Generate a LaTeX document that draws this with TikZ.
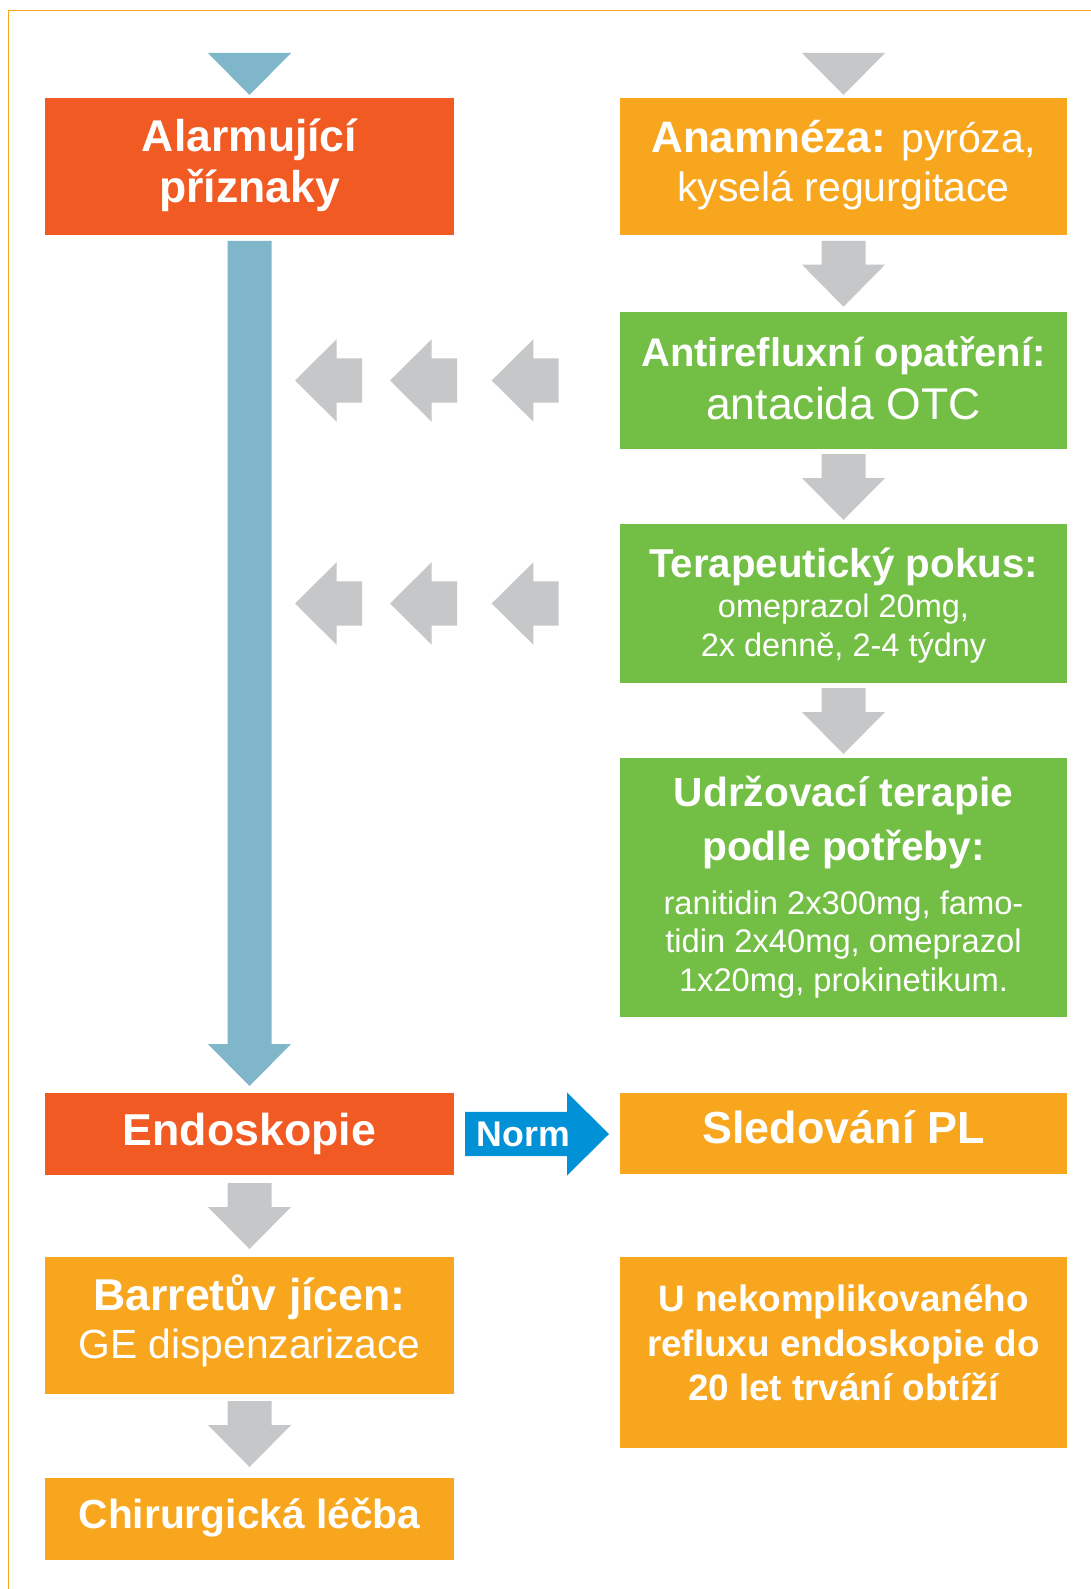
\documentclass[tikz,border=0pt]{standalone}
\usepackage{fontspec}
\setmainfont{Liberation Sans}
\usetikzlibrary{calc}
\definecolor{redor}{HTML}{F15A22}
\definecolor{orng}{HTML}{F7A61E}
\definecolor{grn}{HTML}{73BF45}
\definecolor{gry}{HTML}{C6C7C9}
\definecolor{lblue}{HTML}{7FB6C9}
\definecolor{blu}{HTML}{0091D6}
\newcommand\fs[1]{\fontsize{#1}{#1}\selectfont}
\newcommand\darrow[3]{%
  \fill[#1] let \p1=(#2), \p2=(#3) in
    (\x1-22pt,\y1) -- (\x1+22pt,\y1) -- (\x1+22pt,\y2+42pt) -- (\x1+41.5pt,\y2+42pt)
    -- (\x1,\y2) -- (\x1-41.5pt,\y2+42pt) -- (\x1-22pt,\y2+42pt) -- cycle;}
\newcommand\larrow[2]{%
  \fill[gry] let \p1=(#2.west) in
    (#1pt,\y1) -- ++(41.7pt,41.3pt) -- ++(0pt,-19.1pt) -- ++(25.3pt,0pt)
    -- ++(0pt,-44.4pt) -- ++(-25.3pt,0pt) -- ++(0pt,-19.1pt) -- cycle;}
\begin{document}
\begin{tikzpicture}[x=1pt,y=-1pt,
  box/.style={rectangle,inner sep=0pt,outer sep=0pt,draw=none},
  lbox/.style={box,minimum width=409pt},
  rbox/.style={box,minimum width=447pt},
  txt/.style={anchor=base,inner sep=0pt,text=white}]
\useasboundingbox (0,0) rectangle (1091,1589);
\fill[white] (0,0) rectangle (1091,1589);
\draw[orng,line width=1.5pt] (8.7,1589) -- (8.7,10.7) -- (1091,10.7);

% boxes
\node[lbox,fill=redor,minimum height=137pt] (alarm) at (249.5,166.5) {};
\node[rbox,fill=orng,minimum height=137pt] (anam) at (843.5,166.5) {};
\node[rbox,fill=grn,minimum height=137pt] (anti) at (843.5,380.5) {};
\node[rbox,fill=grn,minimum height=159pt] (tera) at (843.5,603.5) {};
\node[rbox,fill=grn,minimum height=259pt] (udrz) at (843.5,887.5) {};
\node[lbox,fill=redor,minimum height=82pt] (endo) at (249.5,1134) {};
\node[rbox,fill=orng,minimum height=81pt] (sled) at (843.5,1133.5) {};
\node[lbox,fill=orng,minimum height=137pt] (barr) at (249.5,1325.5) {};
\node[lbox,fill=orng,minimum height=82pt] (chir) at (249.5,1519) {};
\node[rbox,fill=orng,minimum height=191pt] (unek) at (843.5,1352.5) {};

% texts
\node[txt,font=\bfseries\fs{44.5}] (t1a) at (249.5,151.7) {Alarmující};
\node[txt,font=\bfseries\fs{44.5}] (t1b) at (249.5,202.7) {příznaky};
\node[txt,font=\fs{41}] (t2a) at (843.5,153) {{\bfseries\fs{44}Anamnéza:} pyróza,};
\node[txt,font=\fs{41}] (t2b) at (843.5,201.7) {kyselá regurgitace};
\node[txt,font=\bfseries\fs{40}] (t3a) at (843.5,366) {Antirefluxní opatření:};
\node[txt,font=\fs{44.5}] (t3b) at (843.5,419.3) {antacida OTC};
\node[txt,font=\bfseries\fs{40.3}] (t4a) at (843.5,577.7) {Terapeutický pokus:};
\node[txt,font=\fs{32.5}] (t4b) at (843.5,617.3) {omeprazol 20mg,};
\node[txt,font=\fs{32.5}] (t4c) at (843.5,656) {2x denně, 2-4 týdny};
\node[txt,font=\bfseries\fs{40.7}] (t5a) at (843.5,806.7) {Udržovací terapie};
\node[txt,font=\bfseries\fs{40.7}] (t5b) at (843.5,860) {podle potřeby:};
\node[txt,font=\fs{32.7}] (t5c) at (843.5,914) {ranitidin 2x300mg, famo-};
\node[txt,font=\fs{32.7}] (t5d) at (843.5,952.7) {tidin 2x40mg, omeprazol};
\node[txt,font=\fs{32.7}] (t5e) at (843.5,991.7) {1x20mg, prokinetikum.};
\node[txt,font=\bfseries\fs{44.7}] (t6) at (249.5,1145) {Endoskopie};
\node[txt,font=\bfseries\fs{44.9}] (t7) at (843.5,1143) {Sledování PL};
\node[txt,font=\bfseries\fs{44.6}] (t8a) at (249.5,1310) {Barretův jícen:};
\node[txt,font=\fs{40.8}] (t8b) at (249.5,1358) {GE dispenzarizace};
\node[txt,font=\bfseries\fs{40.7}] (t9) at (249.5,1528) {Chirurgická léčba};
\node[txt,font=\bfseries\fs{36.8}] (t10a) at (843.5,1311.7) {U nekomplikovaného};
\node[txt,font=\bfseries\fs{36.8}] (t10b) at (843.5,1356) {refluxu endoskopie do};
\node[txt,font=\bfseries\fs{36.8}] (t10c) at (843.5,1400) {20 let trvání obtíží};

% top triangles
\fill[lblue] let \p1=(alarm.north) in (\x1-41.5pt,\y1+45pt) -- (\x1+41.5pt,\y1+45pt) -- (\x1,\y1+3pt) -- cycle;
\fill[gry] let \p1=(anam.north) in (\x1-41.5pt,\y1+45pt) -- (\x1+41.5pt,\y1+45pt) -- (\x1,\y1+3pt) -- cycle;

% blue long arrow
\darrow{lblue}{[yshift=-6pt]alarm.south}{[yshift=7pt]endo.north}

% gray down arrows
\darrow{gry}{[yshift=-6pt]anam.south}{[yshift=5.3pt]anti.north}
\darrow{gry}{[yshift=-5pt]anti.south}{[yshift=4pt]tera.north}
\darrow{gry}{[yshift=-5pt]tera.south}{[yshift=4pt]udrz.north}
\darrow{gry}{[yshift=-8pt]endo.south}{[yshift=8pt]barr.north}
\darrow{gry}{[yshift=-7pt]barr.south}{[yshift=11pt]chir.north}

% left arrows
\larrow{295}{anti}
\larrow{390}{anti}
\larrow{491.7}{anti}
\larrow{295}{tera}
\larrow{390}{tera}
\larrow{491.7}{tera}

% Norm arrow
\fill[blu] let \p1=([xshift=11pt]endo.east), \p2=([xshift=-11pt]sled.west) in
  (\x1,\y1+22.2pt) -- (\x2-42pt,\y1+22.2pt) -- (\x2-42pt,\y1+41.5pt) -- (\x2,\y1)
  -- (\x2-42pt,\y1-41.5pt) -- (\x2-42pt,\y1-22.2pt) -- (\x1,\y1-22.2pt) -- cycle;
\node[txt,font=\bfseries\fs{35.7}] (norm) at (523.3,1146.7) {Norm};
\end{tikzpicture}
\end{document}
